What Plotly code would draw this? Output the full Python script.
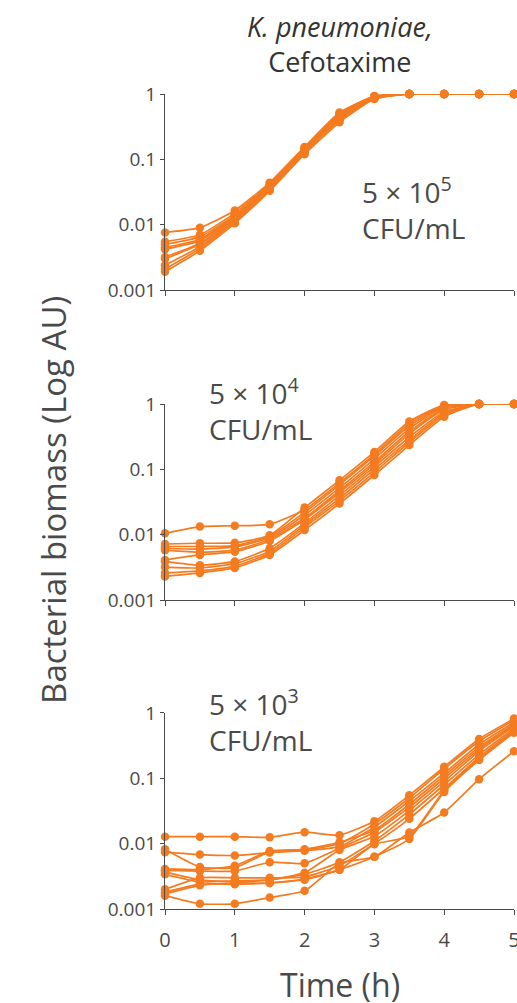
import plotly.graph_objects as go

time_h = [0, 0.5, 1, 1.5, 2, 2.5, 3, 3.5, 4, 4.5, 5]

# 5 x 10^5 CFU/mL
top_series = [
    [0.0076, 0.0090, 0.0165, 0.044, 0.155, 0.52, 0.93, 1, 1, 1, 1],
    [0.0055, 0.0070, 0.0150, 0.042, 0.150, 0.50, 0.92, 1, 1, 1, 1],
    [0.0050, 0.0065, 0.0140, 0.040, 0.145, 0.48, 0.91, 1, 1, 1, 1],
    [0.0045, 0.0060, 0.0135, 0.039, 0.140, 0.46, 0.90, 1, 1, 1, 1],
    [0.0042, 0.0057, 0.0130, 0.038, 0.138, 0.45, 0.89, 1, 1, 1, 1],
    [0.0032, 0.0052, 0.0125, 0.037, 0.135, 0.44, 0.88, 1, 1, 1, 1],
    [0.0030, 0.0050, 0.0120, 0.036, 0.130, 0.42, 0.87, 1, 1, 1, 1],
    [0.0024, 0.0046, 0.0115, 0.035, 0.128, 0.41, 0.86, 1, 1, 1, 1],
    [0.0021, 0.0043, 0.0110, 0.034, 0.125, 0.40, 0.85, 1, 1, 1, 1],
    [0.0019, 0.0040, 0.0105, 0.033, 0.120, 0.37, 0.84, 1, 1, 1, 1],
]

# 5 x 10^4 CFU/mL
mid_series = [
    [0.0105, 0.0133, 0.0137, 0.0144, 0.024, 0.062, 0.17, 0.50, 0.95, 1, 1],
    [0.0072, 0.0074, 0.0075, 0.0098, 0.026, 0.068, 0.185, 0.54, 0.97, 1, 1],
    [0.0066, 0.0066, 0.0068, 0.0095, 0.022, 0.058, 0.16, 0.46, 0.93, 1, 1],
    [0.0062, 0.0060, 0.0065, 0.0090, 0.020, 0.052, 0.145, 0.42, 0.90, 1, 1],
    [0.0058, 0.0054, 0.0058, 0.0085, 0.018, 0.047, 0.13, 0.38, 0.86, 1, 1],
    [0.0041, 0.0049, 0.0055, 0.0080, 0.017, 0.044, 0.12, 0.35, 0.82, 1, 1],
    [0.0039, 0.0034, 0.0039, 0.0062, 0.015, 0.040, 0.11, 0.31, 0.76, 1, 1],
    [0.0032, 0.0031, 0.0036, 0.0056, 0.014, 0.036, 0.10, 0.28, 0.72, 1, 1],
    [0.0026, 0.0028, 0.0033, 0.0052, 0.013, 0.033, 0.09, 0.26, 0.68, 1, 1],
    [0.0023, 0.0026, 0.0031, 0.0049, 0.0118, 0.030, 0.082, 0.235, 0.64, 1, 1],
]

# 5 x 10^3 CFU/mL
bot_series = [
    [0.0128, 0.0128, 0.0128, 0.0125, 0.0150, 0.0135, 0.022, 0.055, 0.15, 0.40, 0.82],
    [0.0082, 0.0044, 0.0043, 0.0075, 0.0080, 0.0100, 0.020, 0.050, 0.14, 0.37, 0.78],
    [0.0074, 0.0068, 0.0066, 0.0073, 0.0078, 0.0090, 0.018, 0.045, 0.12, 0.33, 0.72],
    [0.0041, 0.0040, 0.0046, 0.0077, 0.0082, 0.0105, 0.016, 0.040, 0.11, 0.30, 0.68],
    [0.0039, 0.0038, 0.0038, 0.0052, 0.0050, 0.0085, 0.015, 0.036, 0.10, 0.28, 0.65],
    [0.0034, 0.0026, 0.0027, 0.0028, 0.0036, 0.0080, 0.013, 0.032, 0.09, 0.26, 0.62],
    [0.0037, 0.0028, 0.0026, 0.0028, 0.0034, 0.0052, 0.011, 0.028, 0.080, 0.23, 0.58],
    [0.0020, 0.0030, 0.0030, 0.0030, 0.0031, 0.0046, 0.010, 0.024, 0.070, 0.21, 0.55],
    [0.0018, 0.0024, 0.0024, 0.0025, 0.0029, 0.0040, 0.0098, 0.013, 0.065, 0.20, 0.52],
    [0.0017, 0.0023, 0.0025, 0.0025, 0.0028, 0.0040, 0.0063, 0.0118, 0.062, 0.19, 0.50],
    [0.0016, 0.0012, 0.0012, 0.0015, 0.0019, 0.0050, 0.0063, 0.0148, 0.030, 0.097, 0.26],
]

panel_labels = ["5 × 10<sup>5</sup><br>CFU/mL", "5 × 10<sup>4</sup><br>CFU/mL", "5 × 10<sup>3</sup><br>CFU/mL"]
y_tickvals = [0.001, 0.01, 0.1, 1]
y_ticktext = ["0.001", "0.01", "0.1", "1"]
x_tickvals = [0, 1, 2, 3, 4, 5]
x_ticktext = ["0", "1", "2", "3", "4", "5"]

ORANGE = "#F47B20"
GREY = "#4a4a4a"
FONT = "Open Sans"

fig = go.Figure()
panels = [(top_series, "x", "y"), (mid_series, "x2", "y2"), (bot_series, "x3", "y3")]
for series, xa, ya in panels:
    for s in series:
        fig.add_trace(go.Scatter(
            x=time_h, y=s, xaxis=xa, yaxis=ya, mode="lines+markers",
            line=dict(color=ORANGE, width=1.7, shape="spline", smoothing=0.5),
            marker=dict(color=ORANGE, size=8.5),
            cliponaxis=False, showlegend=False, hoverinfo="skip",
        ))

domains = [[0.7595, 1.0], [0.3791, 0.6196], [0.0, 0.2405]]
common_x = dict(range=[0, 5], tickvals=x_tickvals, ticktext=x_ticktext, ticks="outside",
                ticklen=5, tickcolor=GREY, showline=True, linecolor=GREY, linewidth=1,
                showgrid=False, zeroline=False, ticklabeloverflow="allow", automargin=False,
                ticklabelstandoff=8,
                tickfont=dict(family=FONT, size=20, color=GREY))
common_y = dict(type="log", range=[-3, 0], tickvals=y_tickvals, ticktext=y_ticktext,
                ticks="outside", ticklen=4, tickcolor=GREY, showline=True, linecolor=GREY,
                linewidth=1, showgrid=False, zeroline=False, automargin=False,
                tickfont=dict(family=FONT, size=19, color=GREY))

layout = dict(
    width=517, height=1003, plot_bgcolor="white", paper_bgcolor="white",
    margin=dict(l=165, r=3, t=94, b=94),
)
for i, (xa, ya) in enumerate([("xaxis", "yaxis"), ("xaxis2", "yaxis2"), ("xaxis3", "yaxis3")]):
    xd = dict(common_x)
    xd["anchor"] = "y" if i == 0 else f"y{i+1}"
    if i < 2:
        xd["showticklabels"] = False
    yd = dict(common_y)
    yd["domain"] = domains[i]
    yd["anchor"] = "x" if i == 0 else f"x{i+1}"
    layout[xa] = xd
    layout[ya] = yd
fig.update_layout(**layout)

ann = []
label_pos = [(0.56, 0.62, "x domain", "y domain"), (0.12, 1.18, "x2 domain", "y2 domain"),
             (0.12, 1.17, "x3 domain", "y3 domain")]
for lab, (ax, ay, xr, yr) in zip(panel_labels, label_pos):
    ann.append(dict(text=lab, x=ax, y=ay, xref=xr, yref=yr, xanchor="left", yanchor="top",
                    align="left", showarrow=False, font=dict(family=FONT, size=28, color=GREY)))
ann.append(dict(text="<i>K. pneumoniae,</i><br>Cefotaxime", x=0.5, y=1.108, xref="paper", yref="paper",
                xanchor="center", yanchor="top", showarrow=False,
                font=dict(family=FONT, size=27, color="#333333")))
ann.append(dict(text="Time (h)", x=0.5, y=-0.093, xref="paper", yref="paper",
                xanchor="center", yanchor="middle", showarrow=False,
                font=dict(family=FONT, size=32, color=GREY)))
ann.append(dict(text="Bacterial biomass (Log AU)", x=-0.318, y=0.502, xref="paper", yref="paper",
                xanchor="center", yanchor="middle", textangle=-90, showarrow=False,
                font=dict(family=FONT, size=33, color=GREY)))
fig.update_layout(annotations=ann)

fig.write_html(
    "out.html",
    config={"displayModeBar": False},
    post_script="document.body.style.margin='0';document.body.style.overflow='hidden';",
)
